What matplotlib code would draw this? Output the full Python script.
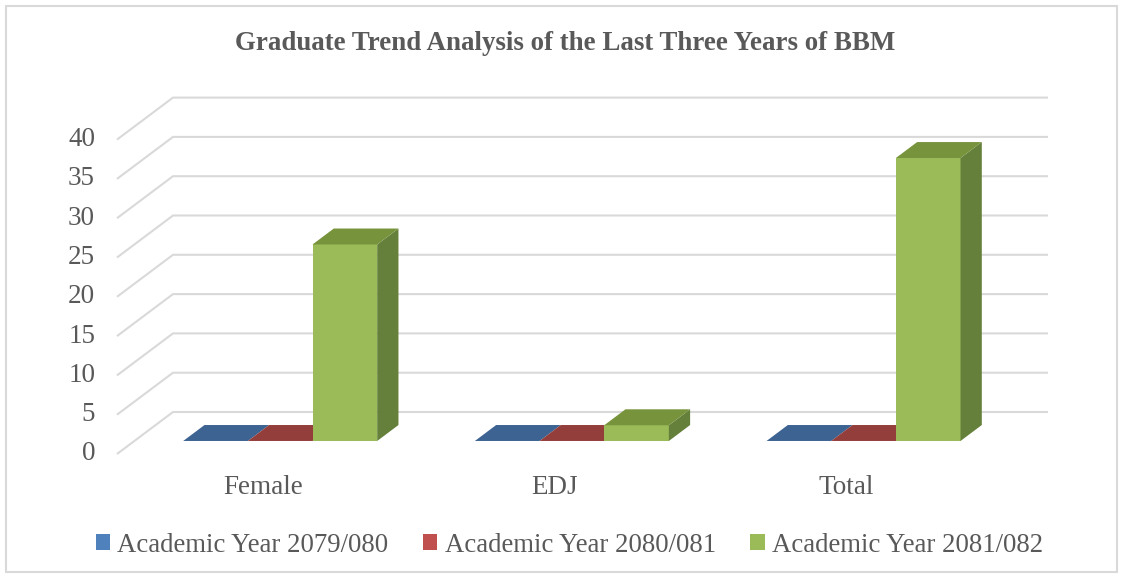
import matplotlib.pyplot as plt
from matplotlib.patches import Polygon, Patch, Rectangle

categories = ['Female', 'EDJ', 'Total']
series_names = ['Academic Year 2079/080', 'Academic Year 2080/081', 'Academic Year 2081/082']
values = [
    [0, 0, 0],      # 2079/080
    [0, 0, 0],      # 2080/081
    [25, 2, 36],    # 2081/082
]
y_ticks = [0, 5, 10, 15, 20, 25, 30, 35, 40]

# face colours: front, top, side
front_cols = ['#4F81BD', '#C0504D', '#9BBB59']
top_cols = ['#3D6392', '#943E3B', '#77933C']
side_cols = ['#34547C', '#7E3532', '#65803A']
grid_col = '#D9D9D9'
text_col = '#595959'

plt.rcParams['font.family'] = ['Liberation Serif', 'DejaVu Serif']

W, H = 1123, 578
fig = plt.figure(figsize=(W / 100, H / 100), dpi=100)
ax = fig.add_axes([0, 0, 1, 1])

# data units: x in categories, y in values (front wall plane)
px_x = 291.67   # px per category
px_v = 7.86     # px per value unit
x0_px, v0_px = 117, 454
ax.set_xlim((0 - x0_px) / px_x, (W - x0_px) / px_x)
ax.set_ylim((v0_px - H) / px_v, v0_px / px_v)
ax.axis('off')

DX = 56 / px_x
DY = 42 / px_v


def P(x, v, d):
    return (x + d * DX, v + d * DY)


# walls / gridlines
for v in y_ticks:
    ax.plot(*zip(P(0, v, 0), P(0, v, 1), P(len(categories), v, 1)),
            color=grid_col, lw=1.5, solid_capstyle='butt', zorder=1)
    ax.text(-0.075, v, str(v), ha='right', va='center', fontsize=19.5, color=text_col)

gap = 0.1675
bw = (1 - 2 * gap) / len(series_names)
d0, d1 = 0.31, 0.69

for i, cat in enumerate(categories):
    for s in range(len(series_names)):
        v = values[s][i]
        xa = i + gap + s * bw
        xb = xa + bw
        front = [P(xa, 0, d0), P(xb, 0, d0), P(xb, v, d0), P(xa, v, d0)]
        top = [P(xa, v, d0), P(xb, v, d0), P(xb, v, d1), P(xa, v, d1)]
        side = [P(xb, 0, d0), P(xb, 0, d1), P(xb, v, d1), P(xb, v, d0)]
        z = 2 + i * 3 + s
        if v > 0:
            ax.add_patch(Polygon(front, closed=True, fc=front_cols[s], ec='none', zorder=z))
            ax.add_patch(Polygon(side, closed=True, fc=side_cols[s], ec='none', zorder=z))
        ax.add_patch(Polygon(top, closed=True, fc=top_cols[s], ec='none', zorder=z))
    ax.text(i + 0.5, (v0_px - 487) / px_v, cat, ha='center', va='center',
            fontsize=19.5, color=text_col)

fig.text(0.503, 1 - 44 / H, 'Graduate Trend Analysis of the Last Three Years of BBM',
         ha='center', va='center', fontsize=19.4, fontweight='bold', color=text_col)

handles = [Patch(fc=c, ec='none') for c in front_cols]
leg = fig.legend(handles, series_names, loc='center', bbox_to_anchor=(0.507, 1 - 545 / H),
                 ncol=3, frameon=False, fontsize=19.3, handlelength=0.53, handleheight=0.53,
                 handletextpad=0.27, columnspacing=1.3, borderpad=0)
for t in leg.get_texts():
    t.set_color(text_col)

fig.add_artist(Rectangle((6 / W, 6 / H), 1 - 12 / W, 1 - 12 / H, transform=fig.transFigure,
                         fill=False, ec=grid_col, lw=1.5))

fig.savefig('out.png', dpi=100)
